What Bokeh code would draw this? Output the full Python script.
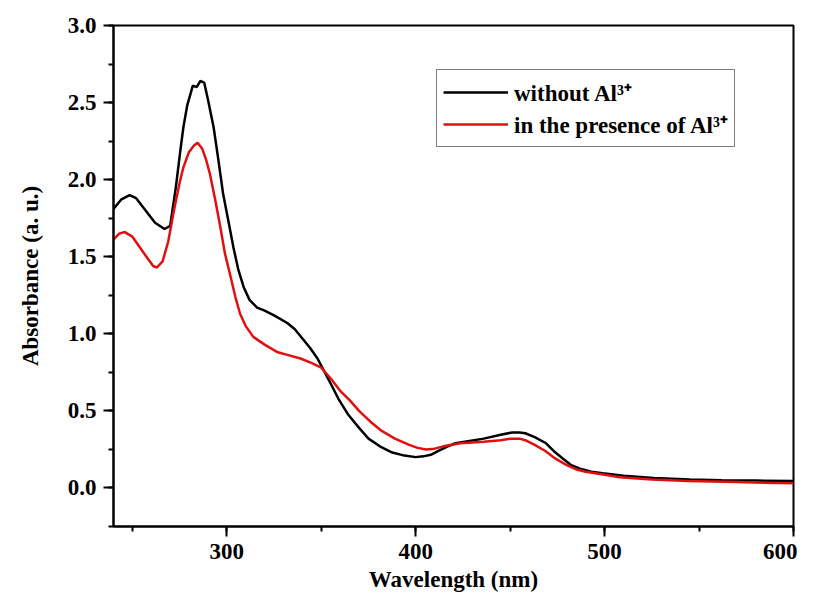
from bokeh.plotting import figure
from bokeh.models import Legend, LegendItem, SingleIntervalTicker, NumeralTickFormatter, Range1d
from bokeh.embed import file_html
from bokeh.resources import INLINE

# Wavelength (nm) / absorbance
wl_without = [240, 244, 248.5, 252, 257, 262, 267, 270, 273, 275.5, 277, 279, 282, 284, 286, 288,
              290, 293, 295.5, 298, 301, 303.5, 306, 309, 312, 316, 320, 325, 332, 336, 340, 344,
              348, 354, 359, 364, 370, 375, 381, 387.6, 394, 400, 404, 408, 412, 417, 421, 426,
              436, 445, 451, 455, 458, 463, 469, 473, 478, 482, 487, 493, 499, 510, 526, 545,
              562, 580, 600]
abs_without = [1.81, 1.87, 1.90, 1.88, 1.80, 1.72, 1.68, 1.70, 1.95, 2.20, 2.34, 2.48, 2.61, 2.60,
               2.64, 2.63, 2.52, 2.34, 2.13, 1.91, 1.72, 1.56, 1.42, 1.30, 1.22, 1.17, 1.15, 1.12,
               1.07, 1.03, 0.97, 0.91, 0.84, 0.70, 0.58, 0.48, 0.39, 0.32, 0.27, 0.23, 0.21, 0.20,
               0.205, 0.215, 0.24, 0.27, 0.29, 0.30, 0.32, 0.345, 0.36, 0.36, 0.355, 0.33, 0.29,
               0.24, 0.19, 0.15, 0.125, 0.105, 0.095, 0.08, 0.065, 0.055, 0.05, 0.048, 0.045]

wl_with = [240, 243, 246, 250, 254, 258, 261, 263, 266, 269, 272, 275, 277, 280, 282.5, 284.5,
           287, 289, 291, 294, 296.6, 299, 302, 304.5, 307, 310, 314, 320, 327, 333, 339, 345,
           350, 355, 360, 365, 370, 376, 382, 389, 396.6, 401, 405.6, 410, 414.6, 423.6, 436,
           445, 450.6, 455, 458, 463, 468.6, 474, 479.7, 485, 490, 500, 508, 525, 544, 570, 600]
abs_with = [1.61, 1.65, 1.66, 1.63, 1.56, 1.49, 1.44, 1.43, 1.47, 1.60, 1.80, 1.98, 2.08, 2.18,
            2.22, 2.24, 2.20, 2.13, 2.04, 1.86, 1.69, 1.52, 1.37, 1.24, 1.13, 1.05, 0.98, 0.93,
            0.88, 0.86, 0.84, 0.81, 0.78, 0.71, 0.63, 0.57, 0.50, 0.43, 0.37, 0.32, 0.28, 0.26,
            0.25, 0.255, 0.27, 0.29, 0.30, 0.31, 0.32, 0.32, 0.31, 0.28, 0.24, 0.19, 0.15, 0.12,
            0.105, 0.085, 0.07, 0.055, 0.045, 0.038, 0.03]

labels = ["without Al\u00b3\u207a", "in the presence of Al\u00b3\u207a"]
colors = ["black", "#e01010"]

FONT = "Liberation Serif"

p = figure(width=797, height=594, output_backend="svg", toolbar_location=None,
           x_range=Range1d(240, 600), y_range=Range1d(-0.25, 3.0),
           min_border_left=113, min_border_right=4, min_border_top=25, min_border_bottom=67,
           x_axis_label="Wavelength (nm)", y_axis_label="Absorbance (a. u.)")
p.grid.visible = False
p.outline_line_color = "black"
p.outline_line_width = 2
p.background_fill_color = "white"
p.border_fill_color = "white"

r1 = p.line(wl_without, abs_without, line_color=colors[0], line_width=2.5)
r2 = p.line(wl_with, abs_with, line_color=colors[1], line_width=2.5)

p.xaxis.ticker = SingleIntervalTicker(interval=100, num_minor_ticks=2)
p.yaxis.ticker = SingleIntervalTicker(interval=0.5, num_minor_ticks=2)
p.yaxis.formatter = NumeralTickFormatter(format="0.0")

for ax in (p.xaxis[0], p.yaxis[0]):
    ax.axis_line_width = 2
    ax.axis_line_color = "black"
    ax.major_tick_line_width = 2
    ax.minor_tick_line_width = 2
    ax.major_tick_out = 10
    ax.major_tick_in = 0
    ax.minor_tick_out = 5
    ax.minor_tick_in = 0
    ax.major_label_text_font = FONT
    ax.major_label_text_font_style = "bold"
    ax.major_label_text_font_size = "23px"
    ax.major_label_text_color = "black"
    ax.axis_label_text_font = FONT
    ax.axis_label_text_font_style = "bold"
    ax.axis_label_text_font_size = "23px"
    ax.axis_label_text_color = "black"
    ax.major_label_standoff = 7

p.xaxis.axis_label_standoff = 5
p.yaxis.axis_label_standoff = 22

legend = Legend(items=[LegendItem(label=labels[0], renderers=[r1]),
                       LegendItem(label=labels[1], renderers=[r2])],
                location=(323, 379))
legend.border_line_color = "black"
legend.border_line_width = 1.5
legend.label_text_font = FONT
legend.label_text_font_style = "bold"
legend.label_text_font_size = "23px"
legend.label_text_color = "black"
legend.glyph_width = 65
legend.glyph_height = 26
legend.label_height = 26
legend.label_standoff = 6
legend.padding = 6
legend.spacing = 0
legend.margin = 0
legend.background_fill_alpha = 1
p.add_layout(legend)

open("out.html", "w").write(file_html(p, INLINE))
